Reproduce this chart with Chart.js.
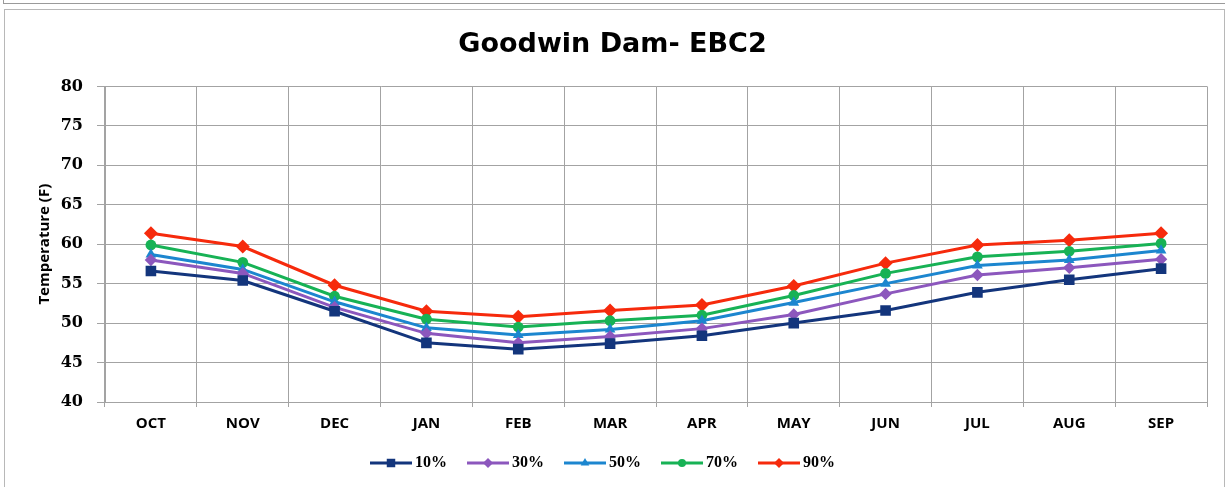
<!DOCTYPE html>
<html>
<head>
<meta charset="utf-8">
<script src="https://cdn.jsdelivr.net/npm/chart.js@4.4.1/dist/chart.umd.min.js"></script>
<style>
  html, body { margin: 0; padding: 0; background: #fff; width: 1225px; height: 487px; overflow: hidden; }
  #wrap { position: absolute; left: 0; top: 0; width: 1225px; height: 487px; }
  #c { position: absolute; left: 0; top: 0; }
  .f1 { position: absolute; left: 3px; top: -10px; width: 1230px; height: 13px; border-left: 1px solid #9a9a9a; border-bottom: 1px solid #9a9a9a; }
  .f2 { position: absolute; left: 4px; top: 9px; width: 1219px; height: 500px; border: 1px solid #b8b8b8; }
</style>
</head>
<body>
<div id="wrap">
  <canvas id="c" width="1225" height="487"></canvas>
  <div class="f1"></div>
  <div class="f2"></div>
</div>
<script>
const months = ["OCT","NOV","DEC","JAN","FEB","MAR","APR","MAY","JUN","JUL","AUG","SEP"];
const p10 = [56.6, 55.4, 51.5, 47.5, 46.7, 47.4, 48.4, 50.0, 51.6, 53.9, 55.5, 56.9];
const p30 = [58.0, 56.3, 52.0, 48.7, 47.5, 48.3, 49.3, 51.1, 53.7, 56.1, 57.0, 58.1];
const p50 = [58.7, 56.8, 52.7, 49.4, 48.5, 49.2, 50.3, 52.6, 55.0, 57.3, 58.0, 59.2];
const p70 = [59.9, 57.7, 53.4, 50.5, 49.5, 50.3, 51.0, 53.5, 56.3, 58.4, 59.1, 60.1];
const p90 = [61.4, 59.7, 54.8, 51.5, 50.8, 51.6, 52.3, 54.7, 57.6, 59.9, 60.5, 61.4];
const seriesNames = ["10%", "30%", "50%", "70%", "90%"];
const yTicks = [40, 45, 50, 55, 60, 65, 70, 75, 80];

const colors = ["#13357c", "#8c57bd", "#1c86cf", "#17b255", "#f62a0c"];
const styles = ["rect", "rectRot", "triangle", "circle", "rectRot"];
const radii = [7.5, 6.2, 6.2, 5.4, 7];
const legendRadii = [6, 5, 5, 4, 5];
const values = [p10, p30, p50, p70, p90];

function makeIcon(color, style, r) {
  const cv = document.createElement('canvas');
  cv.width = 57; cv.height = 16;
  const ctx = cv.getContext('2d');
  ctx.strokeStyle = color; ctx.lineWidth = 3;
  ctx.beginPath(); ctx.moveTo(15, 8); ctx.lineTo(57, 8); ctx.stroke();
  ctx.fillStyle = color;
  Chart.helpers.drawPoint(ctx, {pointStyle: style, radius: r, rotation: 0, borderWidth: 0}, 36, 8);
  return cv;
}
const icons = colors.map((c, i) => makeIcon(c, styles[i], legendRadii[i]));

const datasets = values.map((v, i) => ({
  label: seriesNames[i],
  data: v,
  borderColor: colors[i],
  backgroundColor: colors[i],
  borderWidth: 3,
  pointStyle: styles[i],
  pointRadius: radii[i],
  pointBorderWidth: 0,
  pointBackgroundColor: colors[i],
  tension: 0
}));

const legendShift = {
  id: 'legendShift',
  afterLayout(chart) {
    if (chart.legend) { chart.legend.left -= 15; chart.legend.right -= 15; }
  }
};

new Chart(document.getElementById('c'), {
  type: 'line',
  data: { labels: months, datasets: datasets },
  plugins: [legendShift],
  options: {
    responsive: false,
    animation: false,
    devicePixelRatio: 1,
    layout: { padding: { left: 18, right: 18, top: 0, bottom: 6 } },
    plugins: {
      tooltip: { enabled: false },
      title: {
        display: true,
        text: "Goodwin Dam- EBC2",
        color: "#000",
        font: { family: "'DejaVu Sans'", size: 27, weight: 'bold' },
        padding: { top: 29, bottom: 25 }
      },
      legend: {
        position: 'bottom',
        labels: {
          color: "#000",
          font: { family: "'Liberation Serif'", size: 16, weight: 'bold' },
          usePointStyle: true,
          pointStyleWidth: 47,
          padding: 10,
          generateLabels: (chart) => chart.data.datasets.map((ds, i) => ({
            text: ds.label,
            pointStyle: icons[i],
            fillStyle: ds.borderColor,
            strokeStyle: ds.borderColor,
            lineWidth: 0,
            hidden: false,
            datasetIndex: i,
            fontColor: "#000"
          }))
        }
      }
    },
    scales: {
      x: {
        offset: true,
        grid: { offset: true, color: "#a3a3a3", lineWidth: 1, tickLength: 5, drawTicks: true },
        border: { color: "#a3a3a3", width: 1 },
        ticks: { color: "#000", padding: 8, font: { family: "'Open Sans'", size: 15, weight: 'bold' }, maxRotation: 0 },
        afterFit: (s) => { s.height = 43; }
      },
      y: {
        min: 40, max: 80,
        afterBuildTicks: (s) => { s.ticks = yTicks.map(v => ({ value: v })); },
        grid: { color: "#a3a3a3", lineWidth: 1, tickLength: 8 },
        border: { color: "#a3a3a3", width: 1 },
        ticks: { color: "#000", padding: 14, font: { family: "'DejaVu Serif'", size: 16, weight: 'bold' } },
        title: {
          display: true,
          text: "Temperature (F)",
          color: "#000",
          font: { family: "'Open Sans'", size: 15, weight: 'bold' },
          padding: { top: 18, bottom: 0 }
        },
        afterFit: (s) => { s.width = 87; }
      }
    }
  }
});
</script>
</body>
</html>
